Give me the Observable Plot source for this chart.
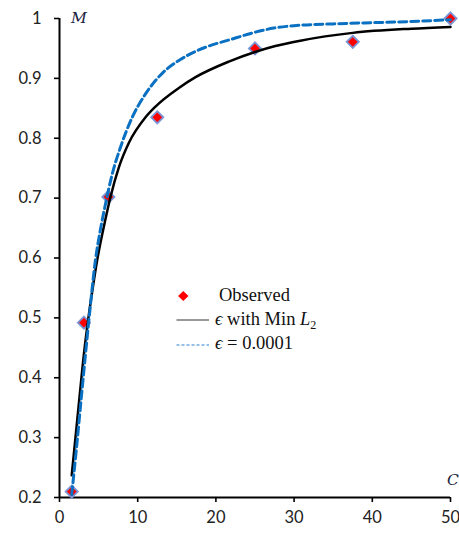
<!DOCTYPE html>
<html><head><meta charset="utf-8">
<script src="https://cdn.jsdelivr.net/npm/d3@7"></script>
<script src="https://cdn.jsdelivr.net/npm/@observablehq/plot@0.6"></script>
<style>
body{margin:0;background:#fff;}
#wrap{position:relative;width:459px;height:535px;overflow:hidden;background:#fff;}
#overlay{position:absolute;left:0;top:0;pointer-events:none;}
</style></head><body><div id="wrap"></div>
<script>
// Observed data
const obsX = [1.5625, 3.125, 6.25, 12.5, 25, 37.5, 50];
const obsY = [0.21, 0.492, 0.702, 0.835, 0.95, 0.961, 1.0];
// epsilon with Min L2 (black solid)
const minL2X = [1.5625, 2.5, 3.125, 3.75, 4.25, 4.8, 5.88, 6.52, 7.58, 8.86, 11, 12.28, 15.26, 17.4, 21.65, 25, 27.6, 30.8, 37.5, 45, 50];
const minL2Y = [0.237, 0.36, 0.44, 0.505, 0.55, 0.595, 0.665, 0.702, 0.751, 0.792, 0.835, 0.853, 0.884, 0.902, 0.928, 0.944, 0.954, 0.963, 0.976, 0.983, 0.986];
// epsilon = 0.0001 (blue dashed)
const epsX = [1.5625, 2.13, 2.9, 3.75, 4.6, 5.2, 5.88, 6.74, 7.8, 9.3, 11, 13.1, 15.65, 18.67, 21.65, 25, 27.4, 30, 35, 40, 45, 50];
const epsY = [0.205, 0.277, 0.382, 0.495, 0.597, 0.645, 0.69, 0.74, 0.785, 0.835, 0.874, 0.908, 0.933, 0.952, 0.964, 0.977, 0.984, 0.988, 0.991, 0.993, 0.995, 0.998];
// ticks
const xTicks = [0, 10, 20, 30, 40, 50];
const yTicks = [0.2, 0.3, 0.4, 0.5, 0.6, 0.7, 0.8, 0.9, 1];
const yTickLabels = ["0.2", "0.3", "0.4", "0.5", "0.6", "0.7", "0.8", "0.9", "1"];
const xTitle = "C";
const yTitle = "M";

const obs = obsX.map((x, i) => ({x, y: obsY[i]}));
const minL2 = minL2X.map((x, i) => ({x, y: minL2Y[i]}));
const eps = epsX.map((x, i) => ({x, y: epsY[i]}));

const plot = Plot.plot({
  width: 459, height: 535,
  marginLeft: 59, marginRight: 9, marginTop: 18, marginBottom: 38,
  style: {fontFamily: "Lato, 'Open Sans', sans-serif", fontSize: "16.5px", color: "#222", background: "white", overflow: "visible"},
  x: {domain: [0, 50]},
  y: {domain: [0.2, 1]},
  marks: [
    Plot.axisX({ticks: xTicks, tickSize: 5, tickPadding: 9, strokeWidth: 1.6, stroke: "#000", label: null, fontSize: 16.5}),
    Plot.axisY({ticks: yTicks, tickFormat: d => yTickLabels[yTicks.findIndex(t => Math.abs(t - d) < 1e-9)], tickSize: 5, tickPadding: 13, strokeWidth: 1.6, stroke: "#000", label: null, fontSize: 16.5}),
    Plot.ruleX([0], {stroke: "#000", strokeWidth: 2}),
    Plot.ruleY([0.2], {stroke: "#000", strokeWidth: 2}),
    Plot.dot(obs, {x: "x", y: "y", symbol: "diamond2", r: 5.5, fill: "#ff0000", stroke: "#7a96d6", strokeWidth: 1.8}),
    Plot.line(minL2, {x: "x", y: "y", stroke: "#000", strokeWidth: 2.5, curve: "monotone-x"}),
    Plot.line(eps, {x: "x", y: "y", stroke: "#0a70c2", strokeWidth: 3, strokeDasharray: "8,4", curve: "monotone-x"})
  ]
});
const wrap = document.getElementById("wrap");
wrap.appendChild(plot);

// overlay: axis titles + legend
const ns = "http://www.w3.org/2000/svg";
const ov = document.createElementNS(ns, "svg");
ov.setAttribute("id", "overlay");
ov.setAttribute("width", "459");
ov.setAttribute("height", "535");
ov.innerHTML = `
  <text x="71" y="23" font-family="'DejaVu Serif', serif" font-style="italic" font-size="15.5" fill="#1c2340">${yTitle}</text>
  <text x="447" y="485" font-family="'DejaVu Serif', serif" font-style="italic" font-size="15.5" fill="#1c2340">${xTitle}</text>
  <g font-family="'Liberation Serif', serif" font-size="18.5" fill="#111">
    <path d="M183.3,291 L188.5,296 L183.3,301 L178.1,296 Z" fill="#ff0000"/>
    <text x="219" y="300.7">Observed</text>
    <line x1="176.5" y1="320" x2="209" y2="320" stroke="#333" stroke-width="1"/>
    <text x="215" y="324.7"><tspan font-style="italic">\u03f5</tspan> with Min <tspan font-style="italic">L</tspan><tspan font-size="12" dy="4">2</tspan></text>
    <line x1="176.5" y1="345" x2="209" y2="345" stroke="#2a80d2" stroke-width="1.2" stroke-dasharray="3,2"/>
    <text x="215" y="349"><tspan font-style="italic">\u03f5</tspan> = 0.0001</text>
  </g>`;
wrap.appendChild(ov);
</script>
</body></html>
